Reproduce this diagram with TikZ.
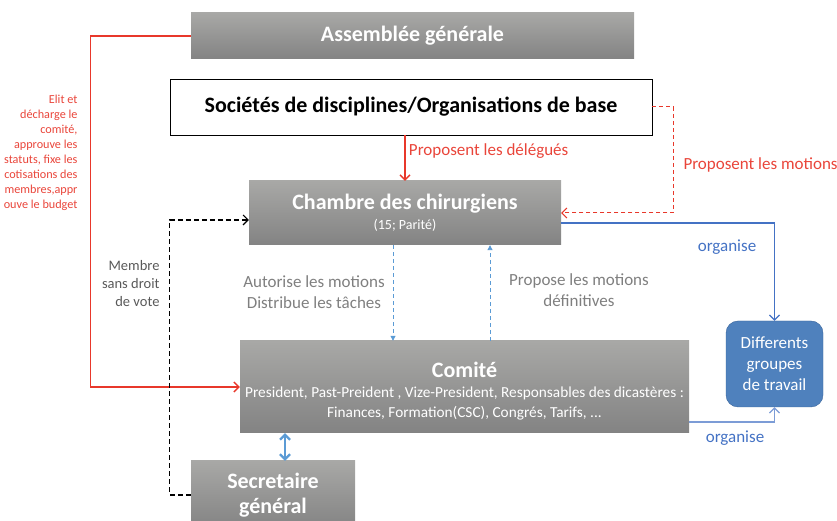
\documentclass[tikz,border=0pt]{standalone}
\usepackage{fontspec}
\setmainfont{Carlito}
\usetikzlibrary{arrows.meta}

\definecolor{boxtop}{HTML}{A8A8A6}
\definecolor{boxbot}{HTML}{838383}
\definecolor{redline}{HTML}{E8382B}
\definecolor{redtext}{HTML}{E9453A}
\definecolor{blueline}{HTML}{4472C4}
\definecolor{lightblue}{HTML}{5B9BD5}
\definecolor{greytext}{HTML}{7F7F7F}
\definecolor{darktext}{HTML}{595959}
\definecolor{groupfill}{HTML}{4F81BD}
\definecolor{groupdraw}{HTML}{3A659B}

\newcommand{\subline}{\fontsize{15.3}{19}\selectfont\mdseries}

\begin{document}
\begin{tikzpicture}[x=1pt,y=1pt,
    >={Straight Barb[length=5pt,width=10pt]},
    greybox/.style={top color=boxtop, bottom color=boxbot, text=white,
      inner sep=0pt, align=center, font=\fontsize{22}{26}\selectfont\bfseries},
    small/.style={font=\fontsize{17}{21}\selectfont},
  ]
  \useasboundingbox (0,0) rectangle (837,521);

  \node[greybox, minimum width=443, minimum height=46] (AG) at (412.5,485) {Assemblée générale};
  \node[draw, thick, fill=white, inner sep=0pt, minimum width=482, minimum height=56,
        font=\fontsize{22}{26}\selectfont\bfseries] (SOC) at (411,414)
        {Sociétés de disciplines/Organisations de base};
  \node[greybox, minimum width=312, minimum height=64] (CH) at (405,308)
        {Chambre des chirurgiens\\[-6pt]\fontsize{14}{16}\selectfont\mdseries (15; Parité)};
  \node[greybox, minimum width=449, minimum height=92] (COM) at (464.5,134)
        {\rule{0pt}{24pt}Comité\\[-6pt]\subline President, Past-Preident , Vize-President, Responsables des dicastères :\\[-6pt]
         \subline Finances, Formation(CSC), Congrés, Tarifs, ...};
  \node[greybox, minimum width=164, minimum height=68,
        font=\fontsize{22}{25}\selectfont\bfseries] (SEC) at (273,26) {Secretaire\\général};
  \node[draw=groupdraw, fill=groupfill, rounded corners=12pt, text=white, align=center,
        inner sep=0pt, minimum width=97, minimum height=86,
        font=\fontsize{17}{21}\selectfont] (GRP) at (774.5,157)
        {Differents\\groupes\\de travail};

  % side notes
  \node[text=redtext, align=right, anchor=east, font=\fontsize{12.2}{15}\selectfont] (ELIT) at (81,368)
        {Elit et\\décharge le\\comité,\\approuve les\\statuts, fixe les\\cotisations des\\membres,appr\\ouve le budget};
  \node[text=darktext, align=right, anchor=east, font=\fontsize{14.5}{18}\selectfont] (MEM) at (163,237)
        {Membre\\sans droit\\de vote};
  \node[small, text=greytext, align=center] (AUT) at (314,229) {Autorise les motions\\Distribue les tâches};
  \node[small, text=greytext, align=center] (PRO) at (579,231) {Propose les motions\\définitives};
  \node[small, text=redtext, anchor=west] (MOT) at (680,356) {Proposent les motions};
  \node[small, text=blueline] (ORG1) at (727,274) {organise};
  \node[small, text=blueline] (ORG2) at (735,83) {organise};

  % connectors
  \draw[redline, line width=1.3pt, ->] (AG.west) -- ++(-100,0) |- (COM.west);
  \draw[redline, line width=1.3pt, ->] (CH.north |- SOC.south) -- (CH.north)
        node[midway, right, small, text=redtext, yshift=7] {Proposent les délégués};
  \draw[draw=redline, line width=1pt, dash pattern=on 4pt off 3pt, ->] (SOC.east) -- ++(21,0) |- (CH.east);
  \draw[black, line width=1.1pt, dash pattern=on 5pt off 3pt, ->] (SEC.west) -- ++(-21,0) |- ([yshift=-7]CH.west);
  \draw[lightblue, line width=0.9pt, dash pattern=on 4pt off 3pt, -{Triangle[length=5pt,width=5pt]}]
        ([xshift=-12]CH.south) -- ([xshift=-12]CH.south |- COM.north);
  \draw[lightblue, line width=0.9pt, dash pattern=on 4pt off 3pt, -{Triangle[length=5pt,width=5pt]}]
        ([xshift=85]CH.south |- COM.north) -- ([xshift=85]CH.south);
  \draw[blueline, line width=1.2pt, ->] ([yshift=-10]CH.east) -| (GRP.north);
  \draw[blueline!70, line width=1.2pt, ->] ([yshift=-35]COM.east) -| (GRP.south);
  \draw[lightblue, line width=2.2pt, <->] ([xshift=12]SEC.north) -- ([xshift=12]SEC.north |- COM.south);
\end{tikzpicture}
\end{document}
